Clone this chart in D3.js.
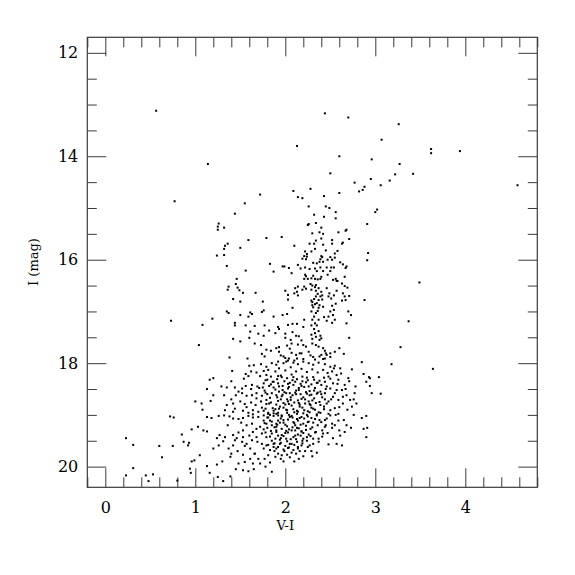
<!DOCTYPE html>
<html><head><meta charset="utf-8">
<script src="https://cdn.jsdelivr.net/npm/d3@7"></script>
<style>
html,body{margin:0;padding:0;background:#fff;}
svg{display:block;}
</style>
</head><body>
<svg id="chart" width="575" height="575"></svg>
<script>
// ---------- DATA (V-I colour, I magnitude) ----------
const brightField = [
[0.565,13.12],[1.14,14.15],[0.77,14.87],[2.44,13.17],[2.70,13.25],[2.13,13.80],[2.60,14.00],[2.50,14.33],
[3.26,13.38],[3.07,13.68],[3.62,13.86],[3.62,13.94],[3.94,13.90],[2.96,14.06],[3.27,14.15],[3.42,14.34],
[3.22,14.35],[2.95,14.44],[3.16,14.47],[3.06,14.56],[2.88,14.59],[2.86,14.65],[4.58,14.56],[3.02,15.03],
[3.00,15.08],[2.91,15.31],[2.92,15.87],[2.91,16.01],[3.49,16.44],[2.88,16.78],[3.37,17.19],[3.28,17.69],
[2.85,17.98],[3.18,18.02],[3.64,18.11],[2.87,18.21],[2.93,18.27],[2.94,18.29],[3.04,18.27],[2.90,18.36],
[2.94,18.44],[2.96,18.58],[3.06,18.59]
];
const giantBranch = [
[2.77,14.51],[2.82,14.68],[2.28,14.63],[2.09,14.67],[2.14,14.79],[2.19,14.81],[1.72,14.74],[2.43,14.77],
[2.60,14.71],[1.55,14.91],[2.26,14.97],[2.45,14.97],[2.49,15.00],[2.56,15.08],[1.44,15.11],[2.32,15.13],
[2.43,15.17],[2.56,15.20],[2.26,15.31],[2.25,15.33],[2.34,15.29],[1.26,15.30],[1.25,15.36],[1.25,15.42],
[1.32,15.38],[2.68,15.42],[2.67,15.44],[2.40,15.38],[2.30,15.49],[2.38,15.47],[2.42,15.50],[2.59,15.47],
[2.40,15.59],[2.34,15.63],[2.27,15.69],[2.32,15.69],[2.42,15.71],[2.52,15.62],[2.52,15.69],[2.64,15.67],
[2.63,15.69],[2.71,15.60],[1.59,15.62],[1.79,15.58],[1.96,15.56],[2.10,15.73],[1.36,15.69],[1.33,15.73],
[1.32,15.79],[1.50,15.77],[2.33,15.79],[2.29,15.84],[2.45,15.82],[2.58,15.83],[2.22,15.84],[2.24,15.89],
[2.21,15.93],[2.19,15.98],[2.23,15.99],[2.24,15.94],[2.40,15.93],[2.41,15.95],[2.39,15.99],[2.50,15.95],
[2.52,16.00],[2.47,16.00],[2.55,15.88],[2.55,15.96],[1.24,15.92],[1.32,15.91],[2.31,16.06],[2.35,16.07],
[2.38,16.04],[2.42,16.04],[2.46,16.15],[2.51,16.15],[2.54,16.15],[2.61,16.05],[2.64,16.09],[2.68,16.13],
[2.67,16.16],[1.83,16.08],[1.97,16.13],[1.99,16.13],[2.04,16.16],[1.35,16.12],[1.87,16.23],[1.56,16.21],
[2.14,16.10],[2.17,16.17],[2.22,16.15],[2.27,16.18],[2.33,16.17],[2.39,16.15],[2.35,16.22],[2.42,16.22],
[2.50,16.22],[2.07,16.26],[2.66,16.33],[2.22,16.29],[2.21,16.37],[2.25,16.37],[2.23,16.32],[2.29,16.36],
[2.31,16.31],[2.33,16.37],[2.36,16.38],[2.40,16.33],[2.39,16.37],[2.53,16.39],[2.56,16.37],[2.58,16.41],
[2.47,16.29],[1.46,16.37],[1.37,16.52],[1.36,16.58],[1.45,16.47],[1.47,16.54],[1.49,16.59],[1.67,16.64],
[1.53,16.64],[1.42,16.76],[1.50,16.81],[1.75,16.81],[2.00,16.60],[2.03,16.68],[2.03,16.77],[2.11,16.55],
[2.13,16.62],[2.10,16.65],[2.14,16.69],[2.14,16.52],[2.19,16.58],[2.21,16.52],[2.23,16.56],[2.28,16.47],
[2.30,16.50],[2.34,16.49],[2.33,16.53],[2.29,16.58],[2.34,16.60],[2.37,16.55],[2.40,16.62],[2.36,16.66],
[2.41,16.69],[2.34,16.71],[2.39,16.71],[2.32,16.76],[2.29,16.79],[2.30,16.82],[2.37,16.78],[2.41,16.77],
[2.35,16.84],[2.33,16.86],[2.30,16.88],[2.38,16.88],[2.31,16.92],[2.37,16.93],[2.42,16.91],[2.46,16.55],
[2.49,16.65],[2.48,16.71],[2.51,16.75],[2.54,16.69],[2.57,16.60],[2.57,16.41],[2.63,16.46],[2.66,16.51],
[2.69,16.54],[2.64,16.65],[2.66,16.71],[2.71,16.70],[2.67,16.78],[2.63,16.79],[2.56,16.85],[2.52,16.89],
[2.54,16.97],[2.50,17.00],[2.53,17.07],[2.48,17.10],[2.43,17.11],[2.46,17.18],[2.52,17.22],[2.55,17.16],
[2.70,17.00],[2.73,17.07],[2.68,17.23],[2.29,17.00],[2.34,17.03],[2.32,17.10],[2.36,16.99],[2.30,17.16],
[2.37,17.16],[2.33,17.23],[2.29,17.27],[2.35,17.27],[2.32,17.34],[2.37,17.38],[2.33,17.42],[2.29,17.45],
[2.39,17.47],[2.34,17.49],[2.40,17.52],[2.30,17.53],[2.38,17.55],[2.30,17.62],[2.34,17.65],[2.37,17.68],
[2.42,17.71],[2.44,17.76],[2.45,17.81],[2.38,17.87],[2.42,17.92],[2.40,17.84]
];
const subgiants = [
[1.35,17.00],[1.37,17.03],[1.50,17.07],[1.61,17.02],[1.63,17.05],[1.59,17.10],[1.76,16.98],[1.74,17.01],
[1.87,17.10],[1.97,17.07],[2.02,17.05],[2.08,16.93],[2.21,17.16],[1.44,17.22],[1.44,17.27],[1.19,17.14],
[1.08,17.26],[0.73,17.18],[1.04,17.65],[1.56,17.27],[1.66,17.28],[1.77,17.27],[1.92,17.30],[1.93,17.34],
[2.03,17.26],[2.08,17.24],[2.13,17.24],[2.20,17.30],[1.61,17.39],[1.70,17.43],[1.76,17.47],[1.82,17.37],
[1.89,17.42],[2.00,17.43],[2.08,17.40],[2.15,17.48],[1.42,17.53],[1.50,17.58],[1.60,17.51],[1.66,17.62],
[1.73,17.65],[2.00,17.51],[2.06,17.55],[2.12,17.47],[2.18,17.56],[1.79,17.74],[1.84,17.76],[1.90,17.71],
[1.93,17.69],[2.02,17.66],[2.07,17.62],[2.14,17.64],[2.20,17.65],[1.38,17.89],[1.58,17.91],[1.74,17.82],
[1.77,17.87],[2.00,17.90],[2.04,17.91],[2.13,17.91],[2.16,17.81],[2.18,17.81],[2.23,17.68],[2.60,17.71],
[2.71,17.51],[1.95,17.85],[2.07,17.80],[2.28,17.85],[2.55,17.78],[2.65,17.82],[2.50,17.88],[2.33,17.93],
[2.10,17.95],[1.93,17.78],[1.98,17.87],[2.05,17.72],[2.12,17.84],[2.20,17.92],[2.26,17.78],[2.31,17.88],
[2.01,17.97],[2.44,17.91],[2.46,17.84],[2.50,17.81]
];
const upperCloud = [
[1.60,18.05],[1.65,18.04],[1.73,18.02],[1.79,18.07],[1.85,18.00],[1.90,18.03],[1.41,18.15],[1.56,18.21],
[1.62,18.16],[1.68,18.18],[1.76,18.15],[1.81,18.13],[1.89,18.16],[1.59,18.25],[1.72,18.25],[1.79,18.23],
[1.84,18.26],[1.92,18.25],[1.20,18.29],[1.16,18.32],[1.80,18.32],[1.87,18.36],[1.76,18.39],[1.92,18.39],
[1.56,18.44],[1.63,18.42],[1.69,18.45],[1.75,18.47],[1.82,18.44],[1.87,18.47],[1.93,18.45],[1.29,18.45],
[1.35,18.47],[1.13,18.50],[1.44,18.47],[1.52,18.49],[1.20,18.62],[1.00,18.74],[1.07,18.78],[1.17,18.73],
[1.08,18.90],[1.40,18.70],[1.45,18.62],[1.52,18.58],[1.57,18.63],[1.63,18.62],[1.68,18.58],[1.74,18.63],
[1.80,18.60],[1.85,18.58],[1.90,18.62],[1.93,18.55],[1.35,18.81],[1.42,18.78],[1.50,18.74],[1.55,18.79],
[1.62,18.76],[1.67,18.81],[1.73,18.74],[1.79,18.79],[1.84,18.76],[1.90,18.80],[1.33,18.91],[1.42,18.94],
[1.53,18.92],[1.59,18.96],[1.64,18.91],[1.70,18.94],[1.76,18.92],[1.81,18.96],[1.87,18.92],[1.92,18.96],
[1.92,17.97],[1.98,18.00],[2.03,17.95],[2.09,17.99],[2.14,18.02],[2.20,17.97],[2.26,18.00],[2.31,18.03],
[2.37,17.99],[2.44,18.02],[2.50,18.07],[2.55,18.05],[2.61,18.10],[2.74,18.12],[2.70,18.29],[2.66,18.42],
[2.63,18.52],[2.68,18.62],[2.77,18.58],[2.72,18.71],[2.64,18.78],[2.74,18.84],[2.79,18.78],[2.52,18.16],
[2.57,18.23],[2.48,18.26],[2.59,18.32],[2.53,18.39],[2.50,18.49],[2.57,18.52],[2.44,18.58],[2.53,18.65],
[2.48,18.74],[2.59,18.71],[2.55,18.87],[2.50,18.91]
];
const coreCloud = [
[1.93,18.10],[2.00,18.14],[2.06,18.08],[2.12,18.16],[2.18,18.11],[2.24,18.17],[2.30,18.12],[2.36,18.18],[2.42,18.13],[2.47,18.19],
[1.95,18.24],[2.02,18.29],[2.07,18.22],[2.13,18.31],[2.19,18.26],[2.25,18.33],[2.31,18.27],[2.38,18.34],[2.43,18.28],
[1.97,18.44],[2.03,18.49],[2.09,18.42],[2.15,18.52],[2.21,18.46],[2.27,18.54],[2.33,18.48],[2.39,18.55],[2.45,18.50],
[1.96,18.64],[2.02,18.70],[2.08,18.62],[2.14,18.72],[2.20,18.66],[2.26,18.74],[2.32,18.68],[2.38,18.75],[2.44,18.70],
[1.94,18.84],[2.01,18.90],[2.07,18.82],[2.13,18.92],[2.19,18.86],[2.25,18.93],[2.31,18.88],[2.37,18.95],[2.43,18.89],
[1.99,18.35],[2.05,18.38],[2.11,18.36],[2.17,18.40],[2.23,18.37],[2.29,18.41],[2.35,18.38],
[1.99,18.56],[2.05,18.58],[2.11,18.57],[2.17,18.60],[2.23,18.56],[2.29,18.61],[2.35,18.59],
[1.98,18.77],[2.04,18.79],[2.10,18.76],[2.16,18.80],[2.22,18.78],[2.28,18.81],[2.34,18.77],
[1.80,19.05],[1.85,19.13],[1.95,19.07],[2.00,19.19],[2.05,19.04],[2.11,19.20],[2.16,19.06],[2.23,19.21],
[2.28,19.27],[2.00,19.35],[2.06,19.47],[2.11,19.30],[2.17,19.40],[2.24,19.50],[1.85,19.50],[1.80,19.25],
[1.95,19.45],[2.00,19.60],[2.10,19.58],[2.16,19.70],[1.88,19.70],[2.05,19.82],[1.98,19.90],[2.15,19.85],
[1.78,18.33],[1.84,18.41],[1.91,18.31],[1.97,18.52],[2.04,18.46],[2.08,18.33],[2.15,18.48],[2.19,18.35],
[2.26,18.45],[2.32,18.32],[2.40,18.42],[2.44,18.36],[1.77,18.53],[1.83,18.67],[1.89,18.51],[1.95,18.70],
[2.01,18.58],[2.06,18.71],[2.12,18.53],[2.18,18.69],[2.24,18.59],[2.30,18.72],[2.36,18.57],[2.41,18.66],
[1.79,18.71],[1.86,18.87],[1.92,18.73],[1.98,18.86],[2.03,18.74],[2.09,18.89],[2.15,18.77],[2.21,18.91],
[2.27,18.79],[2.33,18.90],[2.39,18.81],[2.46,18.78],[1.78,18.88],[1.83,19.00],[1.89,18.89],[1.96,19.03],
[2.02,18.91],[2.08,19.05],[2.14,18.94],[2.21,19.07],[2.27,18.95],[2.33,19.08],[2.39,18.96],[2.44,19.10],
[1.77,19.16],[1.88,19.24],[1.94,19.15],[2.04,19.28],[2.10,19.16],[2.15,19.26],[2.20,19.35],[2.25,19.14],
[2.30,19.24],[2.36,19.20],[2.41,19.30],[1.78,19.34],[1.83,19.42],[1.90,19.33],[1.96,19.39],[2.01,19.46],
[2.12,19.47],[2.18,19.32],[2.26,19.38],[2.31,19.46],[2.37,19.52],[1.81,19.58],[1.87,19.62],[1.94,19.56],
[2.04,19.63],[2.19,19.55],[2.25,19.62],[2.29,19.70]
];
const coreFill = [
[1.71,18.48],[1.74,18.86],[1.76,19.28],[1.78,18.57],[1.81,19.05],[1.82,18.78],[1.84,19.31],[1.86,18.36],
[1.87,18.97],[1.88,19.55],[1.91,18.66],[1.91,19.19],[1.93,18.88],[1.94,19.48],[1.96,18.27],[1.97,18.61],
[1.98,19.10],[1.99,19.70],[2.00,18.80],[2.01,19.31],[2.03,18.40],[2.04,19.00],[2.05,19.56],[2.06,18.66],
[2.08,19.24],[2.09,18.27],[2.10,18.95],[2.11,19.40],[2.12,18.60],[2.13,19.08],[2.14,19.62],[2.16,18.84],
[2.17,19.19],[2.18,18.44],[2.19,19.50],[2.20,18.97],[2.22,18.70],[2.23,19.29],[2.24,18.28],[2.25,19.03],
[2.27,18.62],[2.28,19.41],[2.29,18.86],[2.31,19.15],[2.32,18.53],[2.34,19.33],[2.35,18.99],[2.36,18.38],
[2.38,19.10],[2.40,18.60],[2.41,19.42],[2.43,18.84],[2.45,19.20],
[2.46,18.45],[2.48,18.98],[2.50,18.30],[2.51,18.70],[2.52,19.25],[2.54,18.10],[2.55,18.58],[2.56,19.00],
[2.58,18.40],[2.60,18.85],[2.61,19.40],[2.62,18.20],[2.64,18.65],[2.65,19.10],[2.67,18.50],[2.69,18.90],
[2.71,18.35],[2.73,19.25],[2.76,18.70],[2.78,18.45],
[1.32,18.62],[1.36,19.20],[1.40,18.35],[1.44,18.88],[1.46,19.45],[1.48,18.55],[1.51,19.15],[1.54,18.30],
[1.55,19.60],[1.57,18.85],[1.60,19.40],[1.62,18.50],[1.64,19.05],[1.66,19.75],[1.68,18.68],[1.69,19.52],
[1.70,19.85],[1.78,20.00],[1.95,19.85],[2.10,19.90],[2.20,19.80],[1.65,20.05],[1.45,20.05],[1.25,20.20],
[2.30,19.80]
];
const lowerCloud = [
[1.13,19.04],[1.18,19.06],[1.26,19.02],[1.32,19.01],[1.38,19.03],[1.42,19.07],[1.48,19.08],[1.53,19.06],
[1.59,19.02],[1.64,18.99],[1.70,19.04],[1.76,19.01],[1.81,18.98],[1.87,19.02],[1.92,19.01],[0.85,19.38],
[0.96,19.28],[1.03,19.23],[1.09,19.30],[1.13,19.32],[0.87,19.52],[0.92,19.59],[0.93,19.54],[0.99,19.88],
[0.96,19.90],[0.94,20.04],[0.95,20.12],[1.05,19.78],[1.13,19.99],[1.16,20.12],[1.20,19.65],[1.26,19.59],
[1.31,19.51],[1.27,19.39],[1.24,19.45],[1.33,19.43],[1.30,19.90],[1.24,19.96],[1.39,19.81],[1.40,19.75],
[1.37,19.65],[1.31,20.28],[1.39,20.19],[1.42,19.59],[1.44,19.49],[1.42,19.39],[1.48,19.34],[1.53,19.43],
[1.52,19.52],[1.47,19.70],[1.53,19.77],[1.48,19.94],[1.55,19.91],[1.61,19.85],[1.64,19.94],[1.72,19.94],
[1.66,19.75],[1.61,19.65],[1.57,19.56],[1.63,19.49],[1.68,19.43],[1.74,19.56],[1.76,19.65],[1.79,19.59],
[1.83,19.68],[1.87,19.56],[1.90,19.65],[1.92,19.75],[1.89,19.81],[1.81,19.78],[1.77,19.85],[1.83,19.92],
[1.53,20.07],[1.59,20.09],[1.53,19.30],[1.57,19.20],[1.63,19.17],[1.68,19.27],[1.72,19.23],[1.79,19.17],
[1.85,19.20],[1.90,19.30],[1.74,19.36],[1.79,19.43],[1.85,19.36],[1.89,19.46],[1.92,19.40],[1.76,19.11],
[1.83,19.11],[1.90,19.17],[1.64,19.33],[1.85,20.10],
[2.59,18.98],[2.59,19.11],[2.76,19.00],[2.85,19.06],[2.90,19.02],[2.87,19.27],[2.91,19.25],[2.90,19.43],
[2.66,19.33],[2.57,19.56],[2.63,19.59],[2.48,19.57],[2.35,19.73],[2.42,19.36],[2.33,19.34],[2.37,19.46],
[2.31,19.56],[2.27,19.59],[2.24,19.43],[2.52,19.17],[2.46,19.07],[2.40,19.14],[2.50,19.01],[2.55,19.20],
[2.44,19.23],[1.90,18.98],[1.96,19.01],[2.02,18.96],[2.07,19.02],[2.13,18.98],[2.18,19.04],[2.24,19.00],
[2.29,19.06],[2.35,19.01],[1.92,19.11],[1.98,19.15],[2.03,19.09],[2.09,19.14],[2.14,19.11],[2.20,19.17],
[2.26,19.13],[1.90,19.23],[1.96,19.27],[2.02,19.22],[2.07,19.30],[2.13,19.25],[2.18,19.32],[1.98,19.41],
[2.03,19.34],[2.09,19.43],[2.14,19.38],[2.20,19.46],[1.95,19.54],[2.02,19.51],[2.07,19.56],[2.13,19.52],
[2.18,19.59],[1.92,19.62],[1.98,19.67],[2.03,19.64],[2.09,19.68],[2.14,19.65],[2.22,19.70],[1.96,19.78],
[2.02,19.77],[2.07,19.73],[2.12,19.75],[2.47,19.35],[2.53,19.45],[2.60,19.30],[2.68,19.20]
];
const faintBlue = [
[0.72,19.03],[0.76,19.05],[0.23,19.45],[0.31,19.58],[0.60,19.60],[0.75,19.60],[0.63,19.82],[0.31,20.03],
[0.23,20.17],[0.45,20.17],[0.53,20.15],[0.48,20.28],[0.80,20.27]
];
const xMajorTicks = [0,1,2,3,4];
const yMajorTicks = [12,14,16,18,20];
const xLabel = "V-I";
const yLabel = "I (mag)";

// ---------- LAYOUT ----------
const svg = d3.select("#chart");
const L = 87.3, R = 537.3, T = 37.3, B = 487.3;
const x = d3.scaleLinear().domain([-0.2, 4.8]).range([L, R]);
const y = d3.scaleLinear().domain([11.7, 20.4]).range([T, B]);
const axisColor = "#3a3a3a";
const font = "'DejaVu Serif', serif";

const xMinor = d3.range(-0.2, 4.801, 0.2).map(v => +v.toFixed(2)).filter(v => !xMajorTicks.some(m => Math.abs(m - v) < 1e-6));
const yMinor = d3.range(12, 20.01, 0.5).filter(v => !yMajorTicks.includes(v));

function styleAxis(g) {
  g.select(".domain").remove();
  g.selectAll(".tick line").attr("stroke", axisColor).attr("stroke-width", 1);
  g.selectAll(".tick text").attr("font-family", font).attr("font-size", 16).attr("fill", "#000");
}

// bottom
svg.append("g").attr("transform", `translate(0,${B})`)
  .call(d3.axisBottom(x).tickValues(xMajorTicks).tickSize(-19).tickPadding(14).tickFormat(d3.format("d")))
  .call(styleAxis);
svg.append("g").attr("transform", `translate(0,${B})`)
  .call(d3.axisBottom(x).tickValues(xMinor).tickSize(-10).tickFormat(""))
  .call(styleAxis);
// top
svg.append("g").attr("transform", `translate(0,${T})`)
  .call(d3.axisTop(x).tickValues(xMajorTicks).tickSize(-19).tickFormat(""))
  .call(styleAxis);
svg.append("g").attr("transform", `translate(0,${T})`)
  .call(d3.axisTop(x).tickValues(xMinor).tickSize(-10).tickFormat(""))
  .call(styleAxis);
// left
svg.append("g").attr("transform", `translate(${L},0)`)
  .call(d3.axisLeft(y).tickValues(yMajorTicks).tickSize(-19).tickPadding(9).tickFormat(d3.format("d")))
  .call(styleAxis);
svg.append("g").attr("transform", `translate(${L},0)`)
  .call(d3.axisLeft(y).tickValues(yMinor).tickSize(-9.5).tickFormat(""))
  .call(styleAxis);
// right
svg.append("g").attr("transform", `translate(${R},0)`)
  .call(d3.axisRight(y).tickValues(yMajorTicks).tickSize(-19).tickFormat(""))
  .call(styleAxis);
svg.append("g").attr("transform", `translate(${R},0)`)
  .call(d3.axisRight(y).tickValues(yMinor).tickSize(-9.5).tickFormat(""))
  .call(styleAxis);

// frame
svg.append("rect").attr("x", L).attr("y", T).attr("width", R - L).attr("height", B - T)
  .attr("fill", "none").attr("stroke", axisColor).attr("stroke-width", 1.2);

// points
const allStars = [].concat(brightField, giantBranch, subgiants, upperCloud, coreCloud, coreFill, lowerCloud, faintBlue);
svg.append("g").selectAll("rect").data(allStars).join("rect")
  .attr("x", d => x(d[0]) - 1).attr("y", d => y(d[1]) - 1)
  .attr("width", 2).attr("height", 2).attr("fill", "#000");

// axis titles
svg.append("text").attr("x", x(2)).attr("y", 530).attr("text-anchor", "middle")
  .attr("font-family", font).attr("font-size", 13).text(xLabel);
svg.append("text").attr("transform", `translate(38,262) rotate(-90)`).attr("text-anchor", "middle")
  .attr("font-family", font).attr("font-size", 13).text(yLabel);
</script>
</body></html>
